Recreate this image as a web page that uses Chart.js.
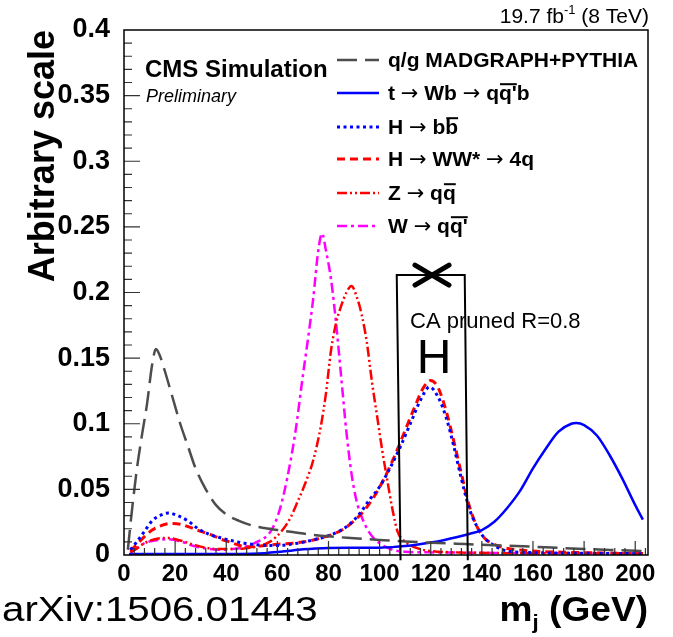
<!DOCTYPE html>
<html>
<head>
<meta charset="utf-8">
<script src="https://cdn.jsdelivr.net/npm/chart.js@4"></script>
<style>
    body { margin: 0; background: #fff; }
</style>
</head>
<body>
<canvas id="graph" width="673" height="637"></canvas>
<script>
const FAMILY = '"Liberation Sans", Arial, Helvetica, sans-serif';

// x = jet mass (GeV), y = arbitrary scale
const qcdMass = [1.5, 3, 5, 7, 9, 11, 12.5, 14, 16, 19, 22, 25, 28, 32, 36, 40, 45, 50, 55, 60, 66, 72, 80, 90, 100, 110, 120, 130, 140, 150, 160, 170, 180, 190, 200, 203];
const qcdValue = [0.004, 0.032, 0.065, 0.091, 0.115, 0.145, 0.157, 0.152, 0.14, 0.12, 0.1, 0.083, 0.066, 0.05, 0.038, 0.031, 0.026, 0.0225, 0.0205, 0.019, 0.0175, 0.0158, 0.0142, 0.0128, 0.0115, 0.0103, 0.0094, 0.0086, 0.0078, 0.0071, 0.0063, 0.0054, 0.0046, 0.0039, 0.0033, 0.003];

const topMass = [2, 20, 40, 50, 55, 60, 65, 70, 75, 80, 90, 100, 105, 110, 115, 120, 125, 130, 135, 140, 145, 150, 155, 160, 165, 170, 175, 177, 180, 185, 190, 195, 200, 203];
const topValue = [0.0008, 0.0008, 0.0008, 0.001, 0.0014, 0.0022, 0.0033, 0.0043, 0.005, 0.0054, 0.0055, 0.0056, 0.006, 0.0068, 0.008, 0.0095, 0.0113, 0.0135, 0.016, 0.019, 0.0255, 0.036, 0.049, 0.066, 0.081, 0.094, 0.1, 0.1005, 0.099, 0.091, 0.076, 0.058, 0.038, 0.027];

const hbbMass = [2.5, 5, 8, 11, 14, 17.5, 21, 25, 29, 33, 37, 42, 47, 52, 57, 62, 68, 74, 79, 84, 88, 92, 96, 100, 104, 108, 112, 116, 119.5, 123, 126, 129, 132, 135, 138, 141, 145, 150, 160, 175, 190, 203];
const hbbValue = [0.004, 0.01, 0.018, 0.026, 0.03, 0.032, 0.03, 0.026, 0.02, 0.016, 0.0135, 0.011, 0.009, 0.0078, 0.0072, 0.0075, 0.009, 0.0115, 0.014, 0.018, 0.023, 0.031, 0.042, 0.052, 0.066, 0.082, 0.1, 0.118, 0.128, 0.12, 0.105, 0.083, 0.058, 0.036, 0.022, 0.013, 0.007, 0.003, 0.0018, 0.0014, 0.0012, 0.001];

const hwwMass = [2.5, 5, 8, 11, 14, 18, 22, 26, 30, 34, 38, 42, 46, 50, 55, 60, 66, 72, 77, 82, 86, 90, 94, 98, 102, 106, 110, 114, 117, 120, 123, 126, 129, 132, 135, 138, 141, 145, 150, 160, 175, 190, 203];
const hwwValue = [0.003, 0.008, 0.014, 0.019, 0.022, 0.024, 0.0235, 0.021, 0.018, 0.0155, 0.012, 0.0095, 0.0068, 0.0062, 0.0072, 0.0082, 0.009, 0.0105, 0.013, 0.016, 0.02, 0.026, 0.034, 0.045, 0.059, 0.076, 0.095, 0.114, 0.127, 0.133, 0.127, 0.11, 0.087, 0.062, 0.038, 0.022, 0.013, 0.008, 0.005, 0.003, 0.002, 0.0015, 0.0012];

const zMass = [2.5, 5, 8, 12, 17, 22, 27, 32, 37, 42, 47, 52, 57, 62, 65, 68, 71, 74, 77, 79, 81, 83, 85, 87, 89, 91, 93, 95, 97, 99, 101, 103, 105, 107, 110, 115, 120, 130, 145, 165, 185, 203];
const zValue = [0.002, 0.005, 0.009, 0.012, 0.013, 0.011, 0.008, 0.0055, 0.0045, 0.0045, 0.005, 0.0065, 0.01, 0.019, 0.028, 0.041, 0.055, 0.072, 0.098, 0.123, 0.156, 0.177, 0.19, 0.2, 0.205, 0.197, 0.183, 0.162, 0.132, 0.106, 0.08, 0.057, 0.035, 0.018, 0.01, 0.005, 0.003, 0.002, 0.0015, 0.0013, 0.0012, 0.0012];

const wMass = [2.5, 5, 8, 12, 17, 22, 27, 32, 37, 42, 47, 52, 55, 58, 61, 64, 67, 70, 72, 74, 76, 77.5, 79, 81, 83, 85, 87, 89, 91, 93, 96, 100, 105, 110, 120, 135, 150, 170, 190, 203];
const wValue = [0.002, 0.005, 0.009, 0.011, 0.012, 0.0105, 0.007, 0.005, 0.004, 0.0045, 0.006, 0.01, 0.013, 0.02, 0.035, 0.06, 0.093, 0.137, 0.165, 0.195, 0.232, 0.245, 0.232, 0.21, 0.176, 0.135, 0.094, 0.062, 0.041, 0.029, 0.017, 0.009, 0.004, 0.0025, 0.002, 0.0018, 0.0015, 0.0013, 0.0012, 0.0012];

const xTicks = [0, 20, 40, 60, 80, 100, 120, 140, 160, 180, 200];
const yTicks = [0, 0.05, 0.1, 0.15, 0.2, 0.25, 0.3, 0.35, 0.4];

// jet cone cartoon around the Higgs peak
const coneLeft = [106.7, 108.2];   // top, bottom (GeV)
const coneRight = [133.3, 134.5];
const coneTop = 0.2133;
const coneBottom = -0.004;
const crossMass = 120.5;

const pts = (xs, ys) => xs.map((x, i) => ({x: x, y: ys[i]}));

const datasets = [
    {label: "q/g MADGRAPH+PYTHIA", data: pts(qcdMass, qcdValue), borderColor: "#4d4d4d", borderDash: [20, 8], borderWidth: 2.5},
    {label: "t → Wb → qq'b", data: pts(topMass, topValue), borderColor: "#0000ff", borderDash: [], borderWidth: 2.5},
    {label: "H → bb", data: pts(hbbMass, hbbValue), borderColor: "#0000ff", borderDash: [3, 3.5], borderWidth: 3},
    {label: "H → WW* → 4q", data: pts(hwwMass, hwwValue), borderColor: "#ff0000", borderDash: [8, 5], borderWidth: 3},
    {label: "Z → qq", data: pts(zMass, zValue), borderColor: "#ff0000", borderDash: [10, 3, 2, 3, 2, 3], borderWidth: 2.5},
    {label: "W → qq'", data: pts(wMass, wValue), borderColor: "#ff00ff", borderDash: [10, 4, 3, 4], borderWidth: 2.5}
];

// legend text pieces: b = bold, a = arrow, o = bold with overline
const legendRows = [
    [["q/g MADGRAPH+PYTHIA", "b"]],
    [["t ", "b"], ["→", "a"], [" Wb ", "b"], ["→", "a"], [" q", "b"], ["q'", "o"], ["b", "b"]],
    [["H ", "b"], ["→", "a"], [" b", "b"], ["b", "o"]],
    [["H ", "b"], ["→", "a"], [" WW* ", "b"], ["→", "a"], [" 4q", "b"]],
    [["Z ", "b"], ["→", "a"], [" q", "b"], ["q", "o"]],
    [["W ", "b"], ["→", "a"], [" q", "b"], ["q'", "o"]]
];
const legendY = [60, 93, 127, 159, 193, 226];

function drawRich(ctx, x, y, parts, size) {
    let cx = x;
    for (const [txt, kind] of parts) {
        ctx.font = kind === "a" ? size + 'px "DejaVu Sans"' : "bold " + size + "px " + FAMILY;
        ctx.fillText(txt, cx, y);
        const w = ctx.measureText(txt).width;
        if (kind === "o") {
            ctx.fillRect(cx + 1, y - size * 0.8, w - 1, 2);
        }
        cx += w;
    }
}

// text stretched horizontally by sx, left aligned at x
function drawWide(ctx, txt, x, y, sx) {
    ctx.save();
    ctx.translate(x, y);
    ctx.scale(sx, 1);
    ctx.fillText(txt, 0, 0);
    ctx.restore();
}

const decor = {
    id: "decor",
    afterDatasetsDraw(chart) {
        const ctx = chart.ctx;
        const a = chart.chartArea;
        const xs = chart.scales.x;
        const ys = chart.scales.y;
        ctx.save();

        // ticks inside the frame
        ctx.strokeStyle = "#333";
        ctx.lineWidth = 1.2;
        ctx.beginPath();
        for (let i = 1; i < 40; i++) {
            const py = ys.getPixelForValue(i * 0.01);
            const len = i % 5 === 0 ? 16 : 8;
            ctx.moveTo(a.left, py);
            ctx.lineTo(a.left + len, py);
        }
        for (let m = 4; m <= 204; m += 4) {
            const px = xs.getPixelForValue(m);
            const len = m % 20 === 0 ? 14 : 7;
            ctx.moveTo(px, a.bottom);
            ctx.lineTo(px, a.bottom - len);
        }
        ctx.stroke();

        // frame
        ctx.strokeStyle = "#000";
        ctx.lineWidth = 1.5;
        ctx.strokeRect(a.left, a.top, a.right - a.left, a.bottom - a.top);

        // jet cone
        const yt = ys.getPixelForValue(coneTop);
        const yb = ys.getPixelForValue(coneBottom);
        ctx.lineWidth = 2;
        ctx.beginPath();
        ctx.moveTo(xs.getPixelForValue(coneLeft[1]), yb);
        ctx.lineTo(xs.getPixelForValue(coneLeft[0]), yt);
        ctx.lineTo(xs.getPixelForValue(coneRight[0]), yt);
        ctx.lineTo(xs.getPixelForValue(coneRight[1]), yb);
        ctx.stroke();
        const cx = xs.getPixelForValue(crossMass);
        ctx.lineWidth = 5;
        ctx.lineCap = "round";
        ctx.beginPath();
        ctx.moveTo(cx - 17, yt - 10);
        ctx.lineTo(cx + 17, yt + 10);
        ctx.moveTo(cx - 17, yt + 10);
        ctx.lineTo(cx + 17, yt - 10);
        ctx.stroke();
        ctx.lineCap = "butt";

        ctx.fillStyle = "#000";
        ctx.textBaseline = "alphabetic";
        ctx.textAlign = "left";
        ctx.font = "22px " + FAMILY;
        ctx.fillText("CA pruned R=0.8", 410, 328);
        ctx.textAlign = "center";
        ctx.font = "48px " + FAMILY;
        ctx.fillText("H", 434, 373);

        // legend
        ctx.textAlign = "left";
        chart.data.datasets.forEach((ds, i) => {
            const ly = legendY[i];
            ctx.strokeStyle = ds.borderColor;
            ctx.lineWidth = ds.borderWidth;
            ctx.setLineDash(ds.borderDash);
            ctx.beginPath();
            ctx.moveTo(337, ly);
            ctx.lineTo(379, ly);
            ctx.stroke();
            ctx.setLineDash([]);
            ctx.fillStyle = "#000";
            drawRich(ctx, 388, ly + 7, legendRows[i], 21);
        });

        // labels
        ctx.fillStyle = "#000";
        ctx.font = "bold 24px " + FAMILY;
        ctx.fillText("CMS Simulation", 145, 77);
        ctx.font = "italic 18px " + FAMILY;
        ctx.fillText("Preliminary", 146, 102);

        // lumi label, right aligned
        ctx.font = "21px " + FAMILY;
        const l1 = "19.7 fb", l3 = " (8 TeV)";
        const w1 = ctx.measureText(l1).width, w3 = ctx.measureText(l3).width;
        ctx.font = "13px " + FAMILY;
        const w2 = ctx.measureText("-1").width;
        let lx = 649 - w1 - w2 - w3;
        ctx.font = "21px " + FAMILY;
        ctx.fillText(l1, lx, 23);
        ctx.font = "13px " + FAMILY;
        ctx.fillText("-1", lx + w1, 14);
        ctx.font = "21px " + FAMILY;
        ctx.fillText(l3, lx + w1 + w2, 23);

        // axis titles
        ctx.font = "bold 35px " + FAMILY;
        const t1 = "m", t3 = " (GeV)";
        const m1 = ctx.measureText(t1).width, m3 = ctx.measureText(t3).width;
        ctx.font = "bold 21px " + FAMILY;
        const m2 = ctx.measureText("j").width;
        const sx = 1.06;
        let tx = a.right - (m1 + m2 + m3) * sx;
        ctx.font = "bold 35px " + FAMILY;
        drawWide(ctx, t1, tx, 621, sx);
        ctx.font = "bold 21px " + FAMILY;
        drawWide(ctx, "j", tx + m1 * sx, 629, sx);
        ctx.font = "bold 35px " + FAMILY;
        drawWide(ctx, t3, tx + (m1 + m2) * sx, 621, sx);

        ctx.font = "35px " + FAMILY;
        drawWide(ctx, "arXiv:1506.01443", 2, 621, 1.15);

        ctx.translate(54, a.top);
        ctx.rotate(-Math.PI / 2);
        ctx.textAlign = "right";
        ctx.font = "bold 36px " + FAMILY;
        ctx.fillText("Arbitrary scale", 0, 0);
        ctx.restore();
    }
};

const chart = new Chart(document.getElementById("graph").getContext("2d"), {
    type: "line",
    data: {datasets: datasets},
    options: {
        responsive: false,
        animation: false,
        devicePixelRatio: 1,
        layout: {padding: {top: 30, right: 25, left: 0, bottom: 0}},
        plugins: {legend: {display: false}, tooltip: {enabled: false}},
        elements: {
            point: {radius: 0},
            line: {tension: 0.4, cubicInterpolationMode: "monotone", fill: false}
        },
        scales: {
            x: {
                type: "linear",
                min: 0,
                max: 205,
                grid: {display: false},
                border: {display: false},
                ticks: {autoSkip: false, maxRotation: 0, padding: -3, color: "#000",
                    font: {family: FAMILY, size: 24, weight: "bold"}},
                afterBuildTicks: (s) => { s.ticks = xTicks.map((v) => ({value: v})); },
                afterFit: (s) => { s.height = 82; }
            },
            y: {
                min: 0,
                max: 0.4,
                grid: {display: false},
                border: {display: false},
                ticks: {autoSkip: false, padding: 6, color: "#000",
                    font: {family: FAMILY, size: 27, weight: "bold"},
                    callback: (v) => String(Math.round(v * 100) / 100)},
                afterBuildTicks: (s) => { s.ticks = yTicks.map((v) => ({value: v})); },
                afterFit: (s) => { s.width = 124; }
            }
        }
    },
    plugins: [decor]
});
</script>
</body>
</html>
